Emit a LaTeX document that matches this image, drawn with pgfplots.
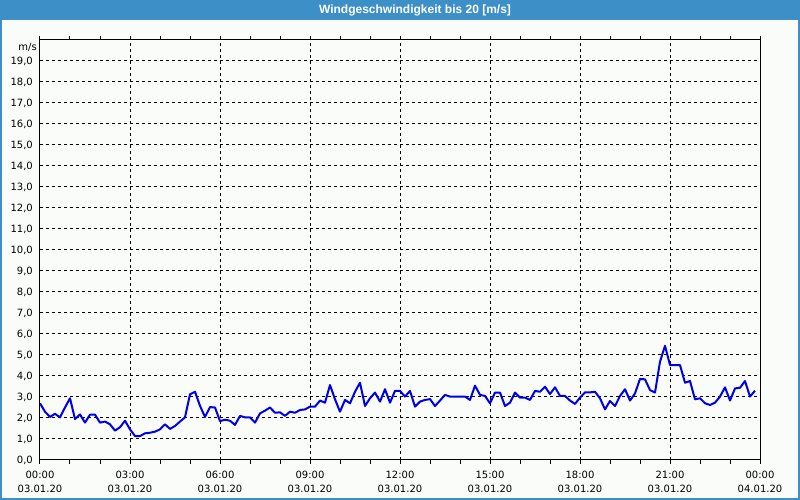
\documentclass[border=0pt]{standalone}
\usepackage{fontspec}
\setmainfont{DejaVu Sans}
\newfontfamily\titlefont{Liberation Sans}
\usepackage{pgfplots}
\pgfplotsset{compat=1.18}
\usepackage{pgfplotstable}
\definecolor{bgc}{RGB}{250,252,250}
\definecolor{barblue}{RGB}{60,144,199}
\definecolor{lineblue}{RGB}{0,0,230}

\pgfplotstableread{
t v
0 2.70
10 2.30
20 2.05
30 2.20
40 2.03
50 2.50
60 2.94
70 1.95
80 2.17
90 1.78
100 2.16
110 2.16
120 1.78
130 1.83
140 1.70
150 1.40
160 1.56
170 1.87
180 1.46
190 1.14
200 1.14
210 1.27
220 1.30
230 1.35
240 1.46
250 1.70
260 1.48
270 1.62
280 1.83
290 2.03
300 3.13
310 3.25
320 2.58
330 2.05
340 2.52
350 2.50
360 1.85
370 1.92
380 1.87
390 1.67
400 2.10
410 2.03
420 2.03
430 1.78
440 2.22
450 2.35
460 2.50
470 2.25
480 2.27
490 2.10
500 2.30
510 2.25
520 2.38
530 2.41
540 2.54
550 2.54
560 2.83
570 2.73
580 3.57
590 2.89
600 2.30
610 2.86
620 2.70
630 3.25
640 3.68
650 2.57
660 2.94
670 3.21
680 2.78
690 3.37
700 2.73
710 3.29
720 3.29
730 3.02
740 3.29
750 2.54
760 2.78
770 2.86
780 2.90
790 2.57
800 2.83
810 3.10
820 3.02
830 3.02
840 3.02
850 3.02
860 2.86
870 3.54
880 3.10
890 3.05
900 2.70
910 3.21
920 3.21
930 2.57
940 2.73
950 3.21
960 2.97
970 2.97
980 2.86
990 3.29
1000 3.25
1010 3.49
1020 3.14
1030 3.46
1040 3.05
1050 3.05
1060 2.83
1070 2.67
1080 2.97
1090 3.22
1100 3.22
1110 3.25
1120 2.94
1130 2.41
1140 2.81
1150 2.57
1160 3.05
1170 3.37
1180 2.83
1190 3.17
1200 3.86
1210 3.84
1220 3.33
1230 3.21
1240 4.68
1250 5.44
1260 4.52
1270 4.52
1280 4.52
1290 3.68
1300 3.76
1310 2.89
1320 2.94
1330 2.70
1340 2.62
1350 2.73
1360 3.02
1370 3.46
1380 2.83
1390 3.41
1400 3.44
1410 3.76
1420 3.02
1430 3.30
}\windtable

\begin{document}
\begin{tikzpicture}[x=1pt,y=1pt]
\fontsize{10}{13}\selectfont
% background and frame
\fill[bgc] (0,0) rectangle (800,500);
\fill[barblue] (0,480) rectangle (800,500);
\draw[barblue, line width=2pt] (1,1) -- (1,480) (799,1) -- (799,480) (0,1) -- (800,1);
\node[text=white, font=\titlefont\bfseries\fontsize{12}{14}\selectfont] at (415,490) {Windgeschwindigkeit bis 20 [m/s]};
\node[anchor=east, inner sep=0pt] at (37,453) {m/s};
\begin{axis}[
  at={(40pt,40pt)}, anchor=south west,
  scale only axis, width=720pt, height=420pt,
  xmin=0, xmax=1440, ymin=0, ymax=20,
  axis line style={black, line width=1pt},
  xtick={0,180,...,1440},
  minor xtick={60,120,240,300,420,480,600,660,780,840,960,1020,1140,1200,1320,1380},
  xticklabels={{00:00\\03.01.20},{03:00\\03.01.20},{06:00\\03.01.20},{09:00\\03.01.20},{12:00\\03.01.20},{15:00\\03.01.20},{18:00\\03.01.20},{21:00\\03.01.20},{00:00\\04.01.20}},
  xticklabel style={align=center, font=\fontsize{10}{14}\selectfont, inner sep=0pt, yshift=-7pt},
  ytick={0,1,...,19},
  yticklabel style={font=\fontsize{10}{13}\selectfont, inner sep=0pt, xshift=-3pt,
    /pgf/number format/fixed, /pgf/number format/fixed zerofill,
    /pgf/number format/precision=1, /pgf/number format/use comma,
    /pgf/number format/assume math mode=true},
  tick align=outside,
  major tick length=4pt, minor tick length=4pt,
  xtick style={black, line width=1pt},
  ytick style={draw=none},
  xmajorgrids, ymajorgrids,
  major grid style={black, line width=1pt, dash pattern=on 3pt off 3pt},
  clip=true,
]
\addplot[lineblue, line width=2pt, line join=round] table[x=t, y=v] {\windtable};
\end{axis}
\pgfresetboundingbox
\useasboundingbox (0,0) rectangle (800,500);
\end{tikzpicture}
\end{document}
